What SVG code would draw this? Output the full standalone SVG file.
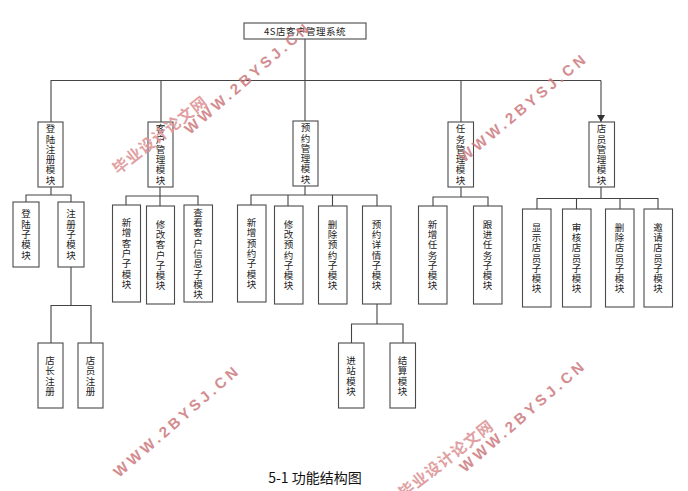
<svg xmlns="http://www.w3.org/2000/svg" width="688" height="491" viewBox="0 0 688 491">
<style>
rect{fill:#fff;stroke:#4a4a4a;stroke-width:1.1}
#connectors path{fill:none;stroke:#444;stroke-width:1.1}
.v{font:9.5px "Noto Sans CJK SC","Liberation Sans",sans-serif;fill:#222;text-anchor:middle}
.t{font:9.5px "Noto Sans CJK SC","Liberation Serif",sans-serif;fill:#222;text-anchor:middle;letter-spacing:.5px}
.cap{font:14px "Noto Sans CJK SC","Liberation Sans",sans-serif;fill:#111;text-anchor:middle}
.w{font:bold 15px "Liberation Sans",sans-serif;fill:#cc7a7e;letter-spacing:3.6px;opacity:.85}
.c{font:bold 15.500px "Noto Sans CJK SC",sans-serif;fill:#dd9698;letter-spacing:1px;opacity:.9}
</style>
<defs><marker id="a" markerUnits="userSpaceOnUse" markerWidth="8" markerHeight="8" refX="7" refY="4" orient="auto"><path d="M0 0L7 4L0 8Z" fill="#333"/></marker></defs>
<g id="connectors">
<path d="M305 39V121M51 122V80.5H601M161 80.5V122M461 80.5V122"/>
<path d="M601 80.5V122" marker-end="url(#a)"/>
<path d="M51 187V195M26 202V195H71V202"/>
<path d="M160 187V206M126 205V196H198V205"/>
<path d="M305 186V195M251 205V195H377V206M288 195V206M332.500 195V206"/>
<path d="M461 187V197M433 206V197H488V206"/>
<path d="M601 187V198.500M537 209V198.500H658V209M576.500 198.500V209M620 198.500V209"/>
<path d="M71 267V305.500M51 343V305.500H91V343"/>
<path d="M377 304V324M351.500 343V324H403V343"/>
</g>
<g id="root"><rect x="244" y="23" width="122" height="16"/><text class="t" x="305" y="34.500">4S店客户管理系统</text></g>
<g id="m1"><rect x="38" y="122" width="25" height="65"/><text class="v" x="50.500 50.500 50.500 50.500 50.500 50.500" y="132.250 142.550 152.850 163.150 173.450 183.750">登陆注册模块</text></g>
<g id="m2"><rect x="148" y="122" width="25" height="65"/><text class="v" x="160.500 160.500 160.500 160.500 160.500 160.500" y="132.250 142.550 152.850 163.150 173.450 183.750">客户管理模块</text></g>
<g id="m3"><rect x="293" y="121" width="25" height="65"/><text class="v" x="305.500 305.500 305.500 305.500 305.500 305.500" y="131.250 141.550 151.850 162.150 172.450 182.750">预约管理模块</text></g>
<g id="m4"><rect x="448" y="122" width="25.500" height="65"/><text class="v" x="460.500 460.500 460.500 460.500 460.500 460.500" y="132.250 142.550 152.850 163.150 173.450 183.750">任务管理模块</text></g>
<g id="m5"><rect x="589" y="122" width="25.500" height="65"/><text class="v" x="601.500 601.500 601.500 601.500 601.500 601.500" y="132.250 142.550 152.850 163.150 173.450 183.750">店员管理模块</text></g>
<g id="s1"><rect x="13" y="202" width="26" height="65"/><text class="v" x="26 26 26 26 26" y="217.400 227.700 238 248.300 258.600">登陆子模块</text></g>
<g id="s2"><rect x="58" y="202" width="26" height="65"/><text class="v" x="71 71 71 71 71" y="217.400 227.700 238 248.300 258.600">注册子模块</text></g>
<g id="s3"><rect x="112.500" y="205" width="28" height="97"/><text class="v" x="126.500 126.500 126.500 126.500 126.500 126.500 126.500" y="226.100 236.400 246.700 257 267.300 277.600 287.900">新增客户子模块</text></g>
<g id="s4"><rect x="146.500" y="206" width="28" height="98"/><text class="v" x="160.500 160.500 160.500 160.500 160.500 160.500 160.500" y="227.600 237.900 248.200 258.500 268.800 279.100 289.400">修改客户子模块</text></g>
<g id="s5"><rect x="184" y="205" width="28.500" height="97"/><text class="v" x="198 198 198 198 198 198 198 198 198" y="215.800 226.100 236.400 246.700 257 267.300 277.600 287.900 298.200">查看客户信息子模块</text></g>
<g id="s6"><rect x="237.500" y="205" width="28.500" height="97"/><text class="v" x="251.500 251.500 251.500 251.500 251.500 251.500 251.500" y="226.100 236.400 246.700 257 267.300 277.600 287.900">新增预约子模块</text></g>
<g id="s7"><rect x="274.500" y="206" width="28.500" height="98"/><text class="v" x="288.500 288.500 288.500 288.500 288.500 288.500 288.500" y="227.600 237.900 248.200 258.500 268.800 279.100 289.400">修改预约子模块</text></g>
<g id="s8"><rect x="318.500" y="206" width="28.500" height="98"/><text class="v" x="332.500 332.500 332.500 332.500 332.500 332.500 332.500" y="227.600 237.900 248.200 258.500 268.800 279.100 289.400">删除预约子模块</text></g>
<g id="s9"><rect x="362.500" y="206" width="28.500" height="98"/><text class="v" x="376.500 376.500 376.500 376.500 376.500 376.500 376.500" y="227.600 237.900 248.200 258.500 268.800 279.100 289.400">预约详情子模块</text></g>
<g id="s10"><rect x="418.500" y="206" width="28.500" height="98"/><text class="v" x="432.500 432.500 432.500 432.500 432.500 432.500 432.500" y="227.600 237.900 248.200 258.500 268.800 279.100 289.400">新增任务子模块</text></g>
<g id="s11"><rect x="473.500" y="206" width="28.500" height="98"/><text class="v" x="487.500 487.500 487.500 487.500 487.500 487.500 487.500" y="227.600 237.900 248.200 258.500 268.800 279.100 289.400">跟进任务子模块</text></g>
<g id="s12"><rect x="522.500" y="209" width="28.500" height="98"/><text class="v" x="536.500 536.500 536.500 536.500 536.500 536.500 536.500" y="230.600 240.900 251.200 261.500 271.800 282.100 292.400">显示店员子模块</text></g>
<g id="s13"><rect x="562.500" y="209" width="28.500" height="98"/><text class="v" x="576.500 576.500 576.500 576.500 576.500 576.500 576.500" y="230.600 240.900 251.200 261.500 271.800 282.100 292.400">审核店员子模块</text></g>
<g id="s14"><rect x="605.500" y="209" width="28.500" height="98"/><text class="v" x="619.500 619.500 619.500 619.500 619.500 619.500 619.500" y="230.600 240.900 251.200 261.500 271.800 282.100 292.400">删除店员子模块</text></g>
<g id="s15"><rect x="644" y="209" width="28.500" height="98"/><text class="v" x="658 658 658 658 658 658 658" y="230.600 240.900 251.200 261.500 271.800 282.100 292.400">邀请店员子模块</text></g>
<g id="r1"><rect x="38" y="343" width="25" height="65"/><text class="v" x="50 50 50 50" y="364.050 374.350 384.650 394.950">店长注册</text></g>
<g id="r2"><rect x="78" y="343" width="25" height="65"/><text class="v" x="90.500 90.500 90.500 90.500" y="364.050 374.350 384.650 394.950">店员注册</text></g>
<g id="r3"><rect x="338.500" y="343" width="25.500" height="65"/><text class="v" x="351 351 351 351" y="364.050 374.350 384.650 394.950">进站模块</text></g>
<g id="r4"><rect x="390" y="343" width="25.500" height="65"/><text class="v" x="402.500 402.500 402.500 402.500" y="364.050 374.350 384.650 394.950">结算模块</text></g>
<text class="cap" x="315" y="483">5-1 功能结构图</text>
<g id="watermarks">
<text class="w" transform="translate(190 135) rotate(-41)">WWW.2BYSJ.CN</text>
<text class="w" transform="translate(464 163) rotate(-39.500)">WWW.2BYSJ.CN</text>
<text class="w" transform="translate(119 478) rotate(-41)">WWW.2BYSJ.CN</text>
<text class="w" transform="translate(465 473) rotate(-41)">WWW.2BYSJ.CN</text>
<text class="c" transform="translate(118 175) rotate(-38)">毕业设计论文网</text>
<text class="c" transform="translate(404 499) rotate(-38)">毕业设计论文网</text>
</g>
</svg>
